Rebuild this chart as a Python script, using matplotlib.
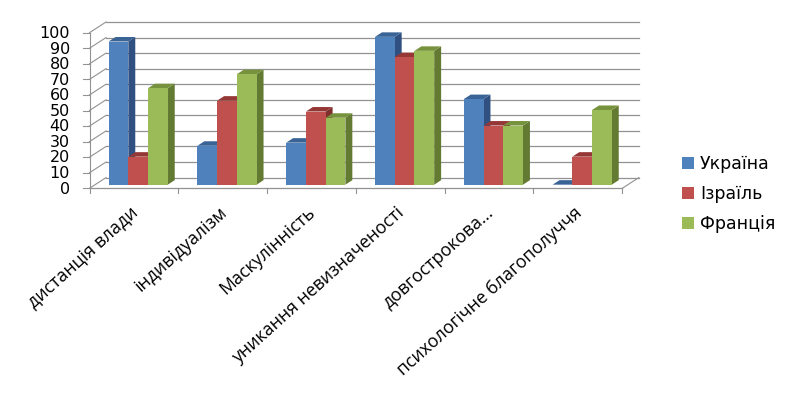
import matplotlib
matplotlib.use('Agg')
import matplotlib.pyplot as plt
from matplotlib.patches import Patch

CATEGORIES = [
    'дистанція влади',
    'індивідуалізм',
    'Маскулінність',
    'уникання невизначеності',
    'довгострокова...',
    'психологічне благополуччя',
]
SERIES = ['Україна', 'Ізраїль', 'Франція']
UKRAINE = [92, 25, 27, 95, 55, 0]
ISRAEL = [18, 54, 47, 82, 38, 18]
FRANCE = [62, 71, 43, 86, 38, 48]
Y_TICKS = [0, 10, 20, 30, 40, 50, 60, 70, 80, 90, 100]

FRONT = ['#4f81bd', '#c0504d', '#9bbb59']
TOP = ['#3a6396', '#953735', '#76923c']
SIDE = ['#2f5080', '#7f2f2d', '#637a33']
GRID = '#929292'

W, H = 807, 396
# front plane of the box, in pixels
LEFT, RIGHT = 89.5, 622.3
Y0, Y100 = 188.3, 32.7
# depth of the box, in data units
DEPTH_X = 16.5 / ((RIGHT - LEFT) / 6)
DEPTH_Y = 10.7 / ((Y0 - Y100) / 100)
# where the bars stand inside the box
BAR_Z = 0.34
BAR_D = 0.42
BAR_W = 0.2222


def shift(x, y, z):
    return x + z * DEPTH_X, y + z * DEPTH_Y


def draw_box(ax):
    for v in Y_TICKS:
        x0, y0 = shift(0, v, 1)
        x1, y1 = shift(6, v, 1)
        ax.plot([x0, x1], [y0, y1], color=GRID, lw=0.9, zorder=1, clip_on=False)
        ax.plot([0, x0], [v, y0], color=GRID, lw=0.8, zorder=1, clip_on=False)
        ax.plot([-0.075, 0], [v, v], color=GRID, lw=0.8, zorder=1, clip_on=False)
    x1, y1 = shift(6, 0, 1)
    ax.plot([6, x1], [0, y1], color=GRID, lw=0.8, zorder=1, clip_on=False)
    ax.plot([0, 6], [0, 0], color=GRID, lw=0.9, zorder=1, clip_on=False)
    ax.plot([0, 0], [0, 100], color=GRID, lw=0.8, zorder=1, clip_on=False)
    for i in range(7):
        ax.plot([i, i], [0, -3.2], color=GRID, lw=0.8, zorder=1, clip_on=False)


def draw_bar(ax, left, value, s, z):
    base_x, base_y = shift(left, 0, BAR_Z)
    right = base_x + BAR_W
    top = base_y + value
    dx = BAR_D * DEPTH_X
    dy = BAR_D * DEPTH_Y
    ax.fill([right, right + dx, right + dx, right],
            [base_y, base_y + dy, top + dy, top],
            color=SIDE[s], lw=0, zorder=z, clip_on=False)
    ax.fill([base_x, right, right + dx, base_x + dx],
            [top, top, top + dy, top + dy],
            color=TOP[s], lw=0, zorder=z, clip_on=False)
    ax.bar(base_x, value, BAR_W, bottom=base_y, align='edge',
           color=FRONT[s], lw=0, zorder=z, clip_on=False)


fig = plt.figure(figsize=(W / 100, H / 100), dpi=100)
ax = fig.add_axes([LEFT / W, 1 - Y0 / H, (RIGHT - LEFT) / W, (Y0 - Y100) / H])
ax.set_xlim(0, 6)
ax.set_ylim(0, 100)
ax.axis('off')

draw_box(ax)

values = [UKRAINE, ISRAEL, FRANCE]
z = 2
for i in range(len(CATEGORIES)):
    for s in range(len(SERIES)):
        left = i + 0.152 + s * BAR_W
        draw_bar(ax, left, values[s][i], s, z)
        z += 1

for v in Y_TICKS:
    ax.text(-0.22, v - 0.5, str(v), ha='right', va='center', fontsize=11.5,
            color='black', clip_on=False)

for i, name in enumerate(CATEGORIES):
    ax.annotate(name, (i + 0.45, 0), xytext=(0, -11), textcoords='offset points',
                ha='right', va='top', rotation=42, rotation_mode='anchor',
                fontsize=12.8, fontfamily='Open Sans', color='black')

handles = [Patch(color=c, lw=0) for c in FRONT]
fig.legend(handles, SERIES, loc='center left', bbox_to_anchor=(682 / W, 1 - 194 / H),
           frameon=False, fontsize=12.5, handlelength=0.69, handleheight=0.69,
           handletextpad=0.35, labelspacing=0.68, borderpad=0, borderaxespad=0)

fig.savefig('out.png', dpi=100)
